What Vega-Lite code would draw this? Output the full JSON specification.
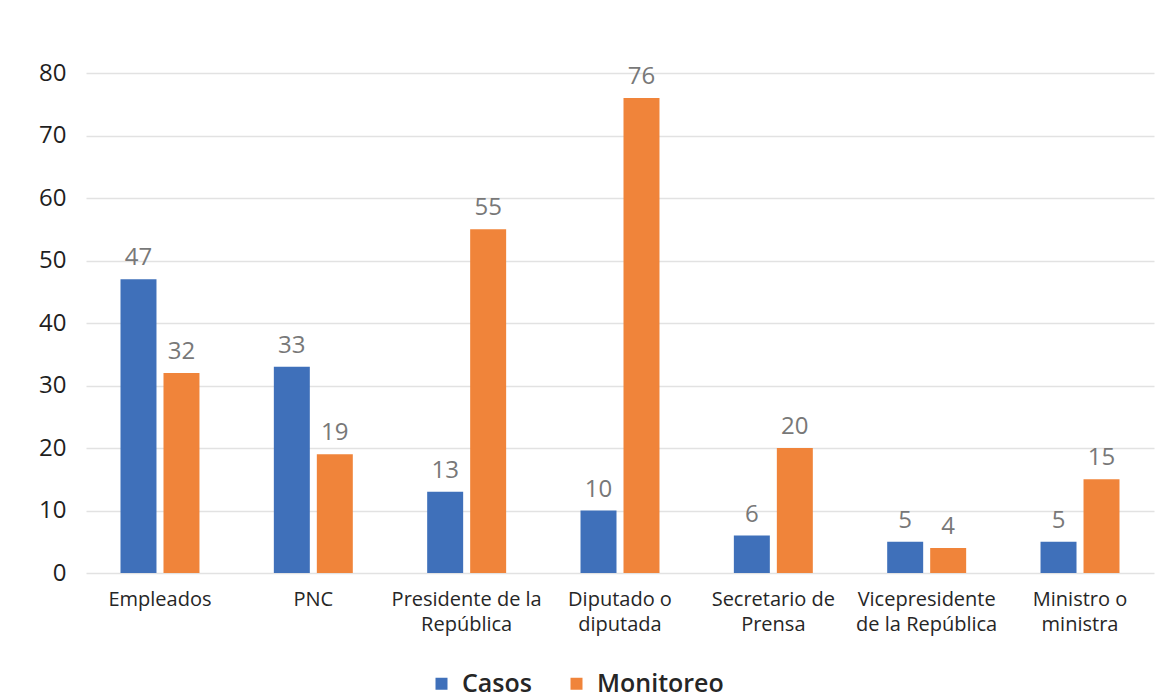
{
  "$schema": "https://vega.github.io/schema/vega-lite/v6.json",
  "width": 1068,
  "height": 500,
  "autosize": {"type": "none"},
  "padding": {"left": 86, "top": 73, "right": 20, "bottom": 127},
  "background": "white",
  "config": {"font": "Open Sans", "view": {"stroke": null}},
  "data": {
    "values": [
      {"cargo": "Empleados", "serie": "Casos", "valor": 47},
      {"cargo": "Empleados", "serie": "Monitoreo", "valor": 32},
      {"cargo": "PNC", "serie": "Casos", "valor": 33},
      {"cargo": "PNC", "serie": "Monitoreo", "valor": 19},
      {"cargo": "Presidente de la República", "serie": "Casos", "valor": 13},
      {"cargo": "Presidente de la República", "serie": "Monitoreo", "valor": 55},
      {"cargo": "Diputado o diputada", "serie": "Casos", "valor": 10},
      {"cargo": "Diputado o diputada", "serie": "Monitoreo", "valor": 76},
      {"cargo": "Secretario de Prensa", "serie": "Casos", "valor": 6},
      {"cargo": "Secretario de Prensa", "serie": "Monitoreo", "valor": 20},
      {"cargo": "Vicepresidente de la República", "serie": "Casos", "valor": 5},
      {"cargo": "Vicepresidente de la República", "serie": "Monitoreo", "valor": 4},
      {"cargo": "Ministro o ministra", "serie": "Casos", "valor": 5},
      {"cargo": "Ministro o ministra", "serie": "Monitoreo", "valor": 15}
    ]
  },
  "encoding": {
    "x": {
      "field": "cargo",
      "type": "nominal",
      "sort": null,
      "scale": {"paddingInner": 0.485, "paddingOuter": 0.225},
      "axis": {
        "title": null,
        "domain": false,
        "ticks": false,
        "labelAngle": 0,
        "labelPadding": 16,
        "labelFontSize": 20,
        "labelColor": "#262626",
        "labelLineHeight": 25,
        "labelExpr": "datum.label == 'Presidente de la República' ? ['Presidente de la', 'República'] : datum.label == 'Diputado o diputada' ? ['Diputado o', 'diputada'] : datum.label == 'Secretario de Prensa' ? ['Secretario de', 'Prensa'] : datum.label == 'Vicepresidente de la República' ? ['Vicepresidente', 'de la República'] : datum.label == 'Ministro o ministra' ? ['Ministro o', 'ministra'] : datum.label"
      }
    },
    "xOffset": {
      "field": "serie",
      "type": "nominal",
      "sort": ["Casos", "Monitoreo"],
      "scale": {"paddingInner": 0.163, "paddingOuter": 0}
    },
    "y": {
      "field": "valor",
      "type": "quantitative",
      "scale": {"domain": [0, 80]},
      "axis": {
        "title": null,
        "values": [0, 10, 20, 30, 40, 50, 60, 70, 80],
        "domain": false,
        "ticks": false,
        "labelPadding": 20,
        "labelFontSize": 24,
        "labelFontWeight": 500,
        "labelColor": "#1F1F1F",
        "gridColor": "#E2E2E2",
        "gridWidth": 1.5
      }
    }
  },
  "layer": [
    {
      "mark": {"type": "bar"},
      "encoding": {
        "color": {
          "field": "serie",
          "type": "nominal",
          "scale": {"domain": ["Casos", "Monitoreo"], "range": ["#3F70BA", "#F0843A"]},
          "legend": {
            "title": null,
            "orient": "none",
            "direction": "horizontal",
            "legendX": 343,
            "legendY": 598,
            "symbolType": "square",
            "symbolSize": 144,
            "symbolStrokeWidth": 0,
            "labelFontSize": 25,
            "labelFontWeight": 600,
            "labelColor": "#262626",
            "labelOffset": 8,
            "columnPadding": 32
          }
        }
      }
    },
    {
      "mark": {"type": "text", "dy": -21, "baseline": "middle", "fontSize": 24, "fontWeight": 500, "fill": "#787878"},
      "encoding": {"text": {"field": "valor", "type": "quantitative"}}
    }
  ]
}
